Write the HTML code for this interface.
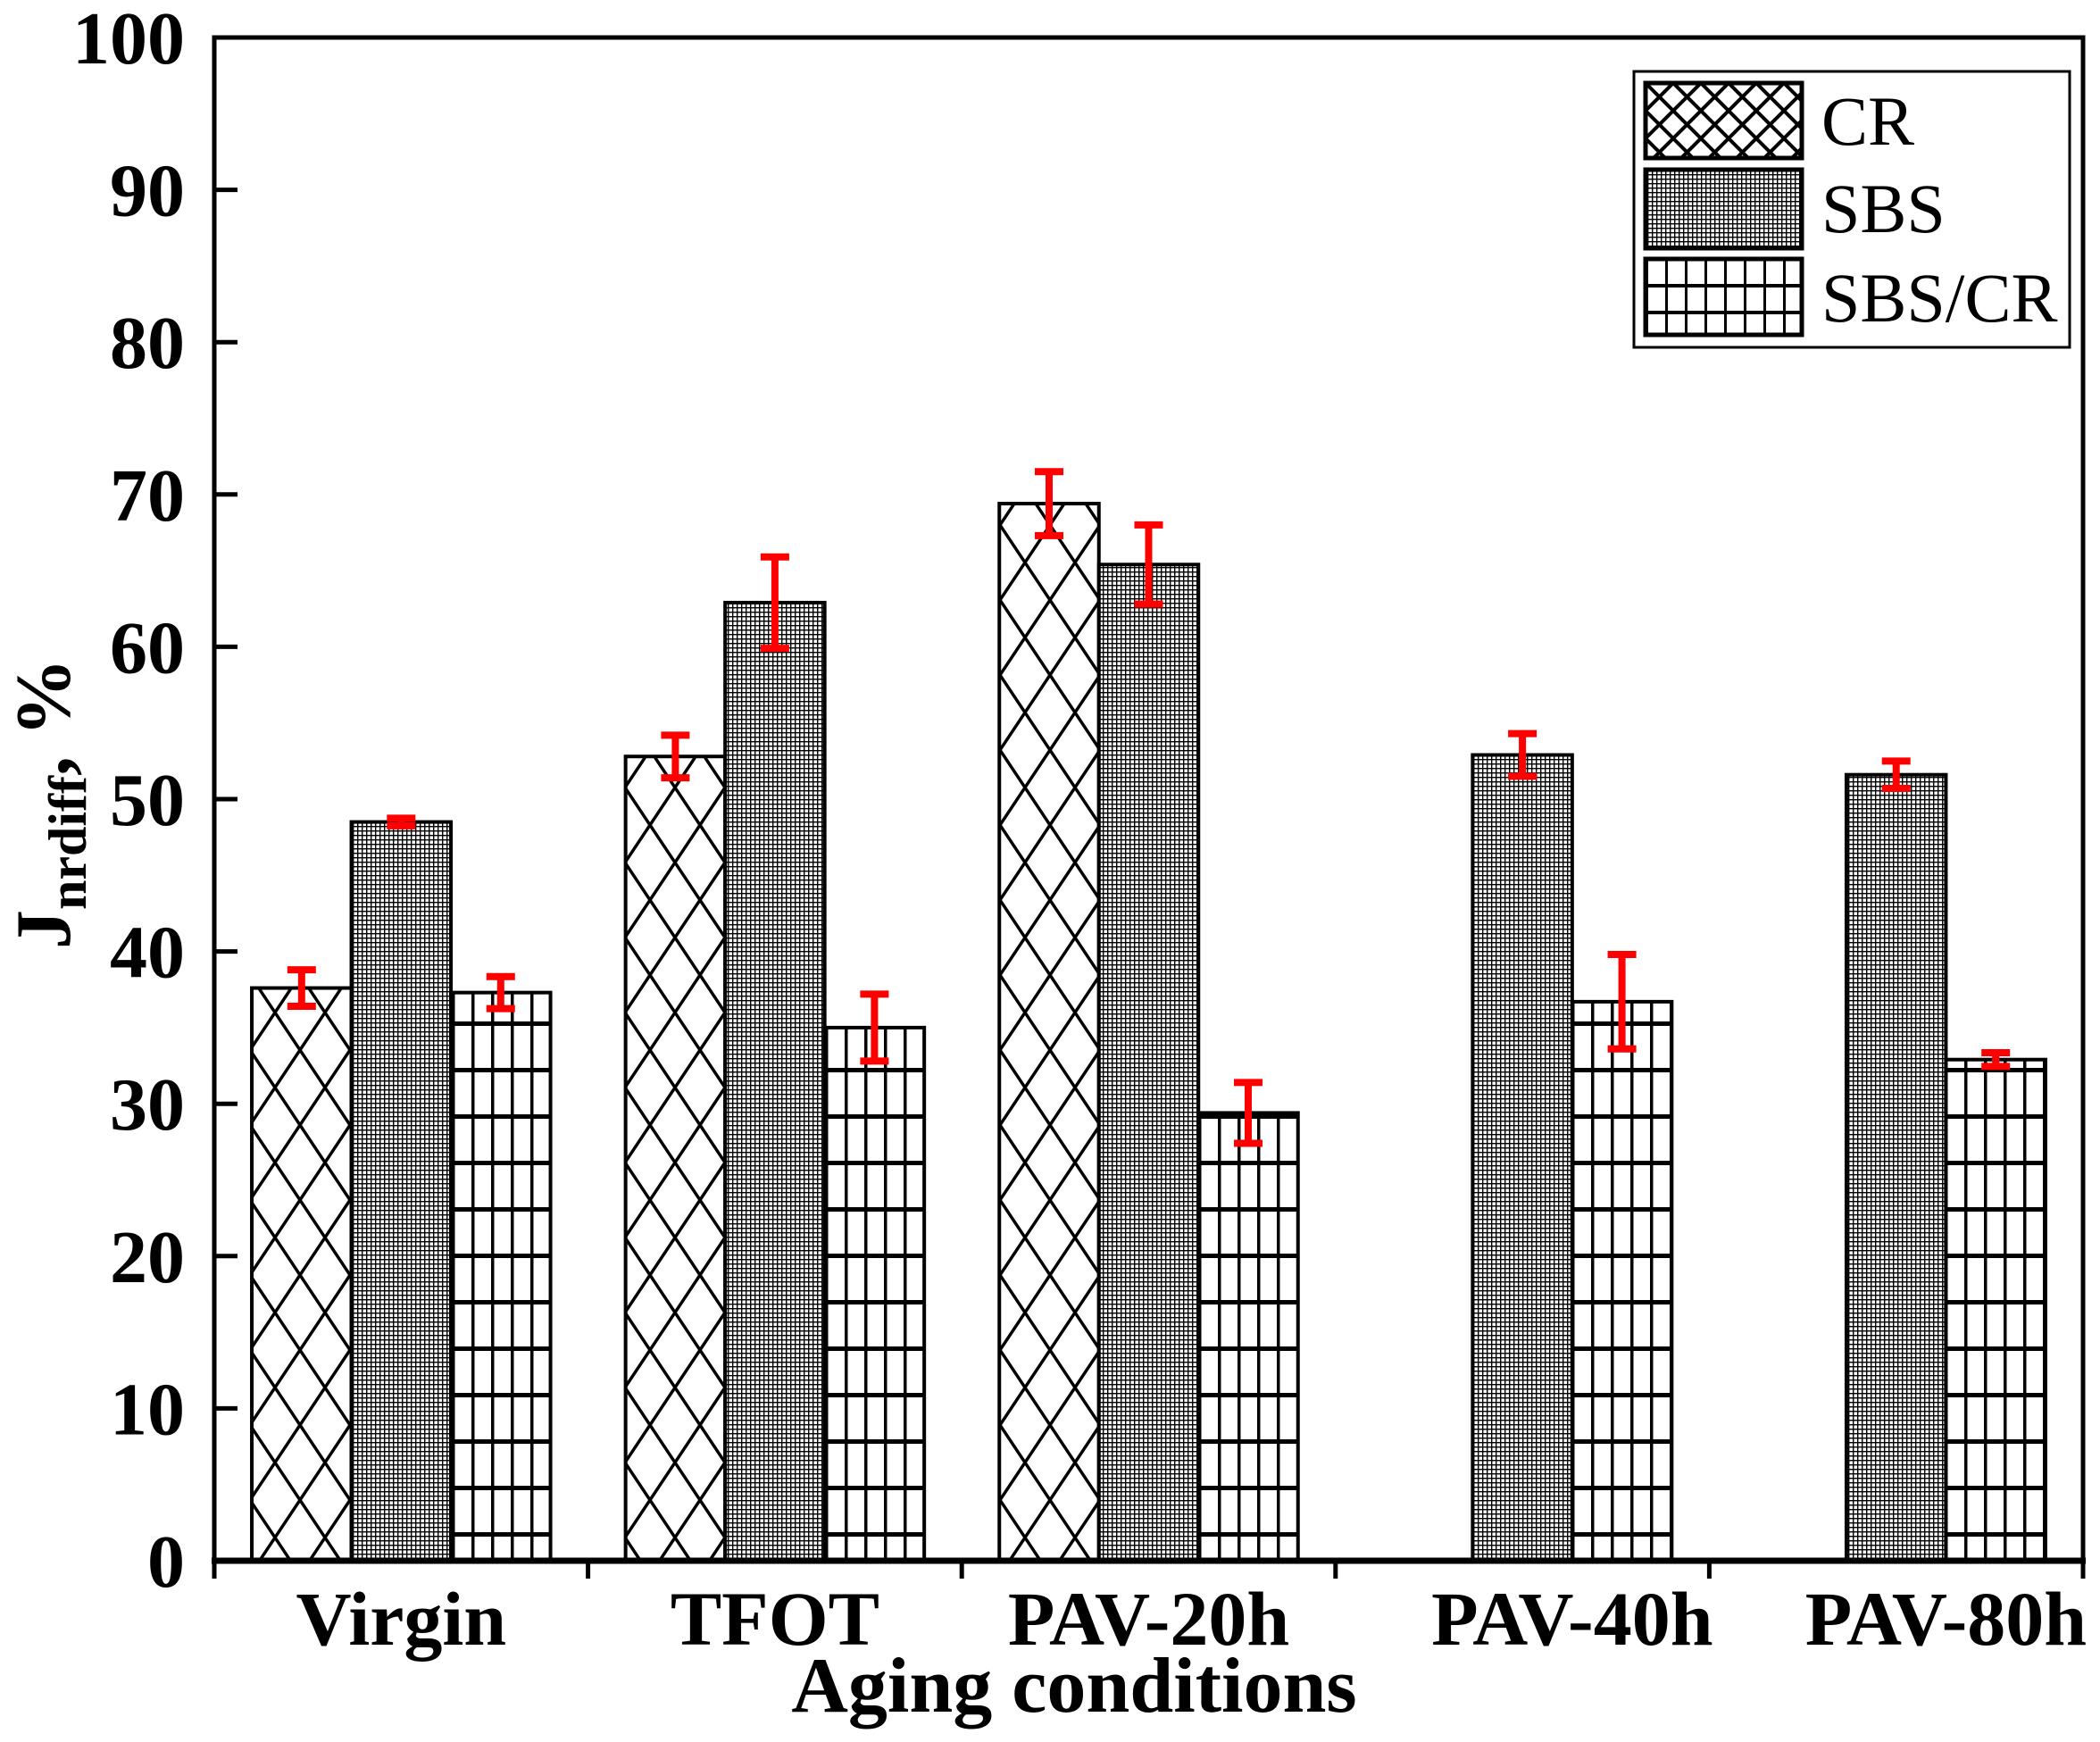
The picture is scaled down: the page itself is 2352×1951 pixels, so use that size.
<!DOCTYPE html>
<html><head><meta charset="utf-8"><style>
html,body{margin:0;padding:0;background:#fff}
svg{display:block}
text{font-family:"Liberation Serif",serif}
</style></head><body>
<svg id="chart" width="2352" height="1951" viewBox="0 0 2352 1951" xmlns="http://www.w3.org/2000/svg">
<defs>
<pattern id="pCR" patternUnits="userSpaceOnUse" width="56" height="84">
<path d="M0,0 L56,84 M56,0 L0,84 M-28,42 L0,0 M28,126 L84,42 M-28,42 L0,84 M56,0 L84,42" stroke="#000" stroke-width="3.5" fill="none"/>
</pattern>
<pattern id="pSBS" patternUnits="userSpaceOnUse" width="5" height="5">
<rect width="5" height="5" fill="#fff"/><rect width="5" height="1.4" fill="#000"/><rect width="1.4" height="5" fill="#000"/>
</pattern>
<pattern id="pSC" patternUnits="userSpaceOnUse" width="22" height="52">
<rect x="0" y="0" width="3.5" height="52" fill="#000"/><rect x="0" y="0" width="22" height="5" fill="#000"/>
</pattern>
<pattern id="pCRl" patternUnits="userSpaceOnUse" width="31" height="31" x="1843" y="93">
<path d="M0,0 L31,31 M31,0 L0,31" stroke="#000" stroke-width="4" fill="none"/>
</pattern>
<pattern id="pSCl" patternUnits="userSpaceOnUse" width="22" height="30" x="1843" y="288">
<rect x="0" y="0" width="3" height="30" fill="#000"/><rect x="0" y="0" width="22" height="4" fill="#000"/>
</pattern>
</defs>
<g id="plot"></g>
</svg>
<script>
const categories = ["Virgin","TFOT","PAV-20h","PAV-40h","PAV-80h"];
const seriesNames = ["CR","SBS","SBS/CR"];
const crValues = [37.6, 52.8, 69.4, null, null];
const sbsValues = [48.5, 62.9, 65.4, 52.9, 51.6];
const sbscrValues = [37.3, 35.0, 29.4, 36.7, 32.9];
const crErrors = [1.2, 1.4, 2.1, null, null];
const sbsErrors = [0.25, 3.0, 2.6, 1.4, 0.9];
const sbscrErrors = [1.05, 2.2, 2.0, 3.1, 0.45];
const yTicks = [0,10,20,30,40,50,60,70,80,90,100];

const NS = "http://www.w3.org/2000/svg";
const g = document.getElementById('plot');
const L = 240, R = 2333, T = 42, B = 1748;
const yMin = 0, yMax = 100;
const y = v => B - (v - yMin) / (yMax - yMin) * (B - T);
const band = (R - L) / categories.length;
const barW = 111.5;
const xBar = (ci, si) => L + band * ci + band / 2 - 1.5 * barW + si * barW;
function mk(tag, attrs, parent) {
  const e = document.createElementNS(NS, tag);
  for (const k in attrs) e.setAttribute(k, attrs[k]);
  (parent || g).appendChild(e);
  return e;
}
const values = [crValues, sbsValues, sbscrValues];
const errors = [crErrors, sbsErrors, sbscrErrors];
const fills = ["url(#pCR)", "url(#pSBS)", "url(#pSC)"];
values.forEach((arr, si) => {
  arr.forEach((v, ci) => {
    if (v == null) return;
    const r = mk('rect', {x: xBar(ci, si), y: y(v), width: barW, height: y(0) - y(v), fill: fills[si], stroke: '#000', 'stroke-width': 4});
    
    
  });
});
values.forEach((arr, si) => {
  arr.forEach((v, ci) => {
    if (v == null) return;
    const e = errors[si][ci];
    const cx = xBar(ci, si) + barW / 2;
    const eg = mk('g', {stroke: '#f00', 'stroke-width': 8, fill: 'none'});
    
    
    mk('line', {x1: cx, x2: cx, y1: y(v + e), y2: y(v - e)}, eg);
    mk('line', {x1: cx - 16, x2: cx + 16, y1: y(v + e), y2: y(v + e)}, eg);
    mk('line', {x1: cx - 16, x2: cx + 16, y1: y(v - e), y2: y(v - e)}, eg);
  });
});
const fr = mk('rect', {x: L, y: T, width: R - L, height: B - T, fill: 'none', stroke: '#000', 'stroke-width': 5});


const xa = mk('line', {x1: L - 3, x2: R + 3, y1: B, y2: B, stroke: '#000', 'stroke-width': 7});


yTicks.forEach(t => {
  const tk = mk('line', {x1: L, x2: L + 26, y1: y(t), y2: y(t), stroke: '#000', 'stroke-width': 5});
  
  
  const tx = mk('text', {x: 207, y: y(t) + 29, 'text-anchor': 'end', 'font-size': 84, 'font-weight': 'bold'});
  tx.textContent = t;
  
  
});
for (let i = 0; i <= categories.length; i++) {
  const xx = L + band * i;
  const tk = mk('line', {x1: xx, x2: xx, y1: B, y2: B + 20, stroke: '#000', 'stroke-width': 5});
  
  
}
categories.forEach((c, ci) => {
  const present = [0, 1, 2].filter(si => values[si][ci] != null);
  const x0 = xBar(ci, present[0]), x1 = xBar(ci, present[present.length - 1]) + barW;
  const tx = mk('text', {x: (x0 + x1) / 2, y: 1842, 'text-anchor': 'middle', 'font-size': 86, 'font-weight': 'bold'});
  tx.textContent = c;
  
  
});
</script>
<svg style="position:absolute;left:0;top:0" width="2352" height="1951" xmlns="http://www.w3.org/2000/svg">
<text x="1203" y="1917" text-anchor="middle" font-size="88" font-weight="bold">Aging conditions</text>
<text transform="translate(78,900) rotate(-90)" text-anchor="middle" font-size="88" font-weight="bold">J<tspan font-size="60" dy="18">nrdiff</tspan><tspan dy="-18">, %</tspan></text>
<g>
<rect x="1830" y="80" width="488" height="309" fill="#fff" stroke="#000" stroke-width="3"/>
<rect x="1843" y="93" width="175" height="84" fill="url(#pCRl)" stroke="#000" stroke-width="5"/>
<rect x="1843" y="190" width="175" height="88" fill="url(#pSBS)" stroke="#000" stroke-width="5"/>
<rect x="1843" y="290" width="175" height="85" fill="url(#pSCl)" stroke="#000" stroke-width="5"/>
<text x="2040" y="162" font-size="78">CR</text>
<text x="2040" y="260" font-size="78">SBS</text>
<text x="2040" y="360" font-size="78">SBS/CR</text>
</g>
</svg>
</body></html>
